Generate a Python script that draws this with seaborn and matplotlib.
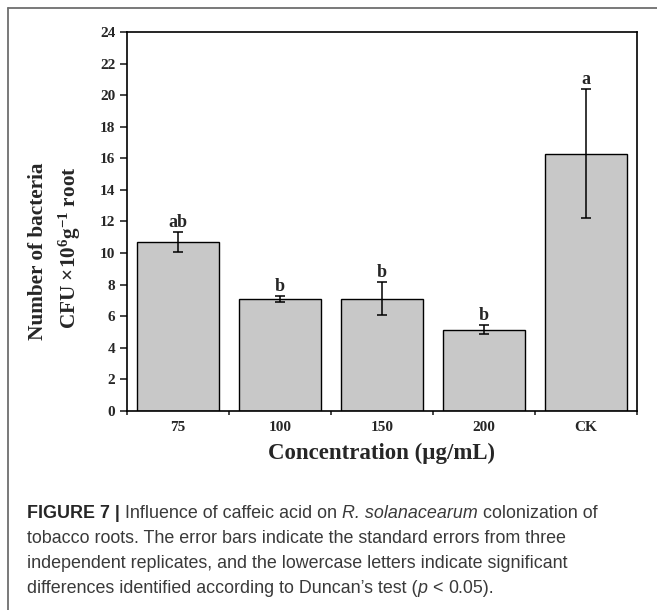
import numpy as np
import pandas as pd
import matplotlib
matplotlib.use("Agg")
import matplotlib.pyplot as plt
from matplotlib.lines import Line2D
import seaborn as sns

# ---------------- data ----------------
concentrations = ["75", "100", "150", "200", "CK"]
means = [10.7, 7.1, 7.1, 5.15, 16.3]
std_errors = [0.65, 0.2, 1.05, 0.3, 4.1]
letters = ["ab", "b", "b", "b", "a"]
y_ticks = list(range(0, 25, 2))

x_label = "Concentration (\u00b5g/mL)"
y_label_1 = "Number of bacteria"
y_label_2 = "CFU \u00d710$^{6}$g$^{-1}$ root"

caption_lines = [
    [("FIGURE 7 |", "bold", False), ("Influence of caffeic acid on", "regular", True),
     ("R. solanacearum", "italic", True), ("colonization of", "regular", True)],
    [("tobacco roots. The error bars indicate the standard errors from three", "regular", False)],
    [("independent replicates, and the lowercase letters indicate significant", "regular", False)],
    [("differences identified according to Duncan\u2019s test (", "regular", False),
     ("p", "italic", False), ("<", "regular", True), ("0.05).", "regular", True)],
]

# ---------------- style ----------------
sns.set_style("ticks")
plt.rcParams["font.family"] = ["Liberation Serif", "DejaVu Serif"]
plt.rcParams.update({
    "mathtext.fontset": "custom",
    "mathtext.rm": "Liberation Serif:bold",
    "mathtext.bf": "Liberation Serif:bold",
    "mathtext.it": "Liberation Serif:bold:italic",
    "axes.linewidth": 1.2,
})

W, H = 657, 610
fig = plt.figure(figsize=(W / 100, H / 100), dpi=100)
fig.patch.set_facecolor("white")

ax_left, ax_right, ax_top, ax_bottom = 127, 637, 32, 411
ax = fig.add_axes([ax_left / W, 1 - ax_bottom / H, (ax_right - ax_left) / W, (ax_bottom - ax_top) / H])

df = pd.DataFrame({"Concentration": concentrations, "CFU": means})
sns.barplot(data=df, x="Concentration", y="CFU", order=concentrations,
            color="#c8c8c8", saturation=1, edgecolor="black", linewidth=1.0,
            width=0.8, errorbar=None, ax=ax)

centers = [p.get_x() + p.get_width() / 2 for p in ax.patches]
ax.errorbar(centers, means, yerr=std_errors, fmt="none", ecolor="black",
            elinewidth=1.1, capsize=3.6, capthick=1.1, zorder=5)

for xc, m, e, lab in zip(centers, means, std_errors, letters):
    ax.annotate(lab, (xc, m + e), xytext=(0, 3.5), textcoords="offset points",
                ha="center", va="baseline", fontsize=13, fontweight="bold")

ax.set_ylim(0, 24)
ax.set_yticks(y_ticks)
ax.set_xlim(-0.5, len(concentrations) - 0.5)
ax.set_xticks(np.arange(-0.5, len(concentrations), 1.0))
ax.set_xticklabels([])
ax.set_xticks(range(len(concentrations)), labels=concentrations, minor=True)
ax.tick_params(axis="x", which="major", length=3, width=1.2, direction="out")
ax.tick_params(axis="x", which="minor", length=0, pad=7.0, labelsize=11)
ax.tick_params(axis="y", length=4.8, width=1.2, direction="out", pad=3.5, labelsize=11)
for lbl in ax.get_xticklabels(minor=True) + ax.get_yticklabels():
    lbl.set_fontweight("bold")
for s in ax.spines.values():
    s.set_visible(True)
    s.set_color("black")
    s.set_linewidth(1.2)

ax.set_xlabel(x_label, fontsize=16.5, fontweight="bold")
ax.xaxis.set_label_coords(0.5, -(453 - ax_bottom) / (ax_bottom - ax_top))
ax.xaxis.label.set_verticalalignment("center")
ax.set_ylabel("")

fig.text(38.5 / W, 1 - 251 / H, y_label_1, rotation=90, ha="center", va="center",
         fontsize=15.3, fontweight="bold")
fig.text(70 / W, 1 - 248 / H, y_label_2, rotation=90, ha="center", va="center",
         fontsize=15.3, fontweight="bold")

# ---------------- outer frame ----------------
fig.add_artist(Line2D([8 / W, 1], [1 - 8 / H, 1 - 8 / H], color="#6e6e6e", lw=1.3))
fig.add_artist(Line2D([8 / W, 8 / W], [0, 1 - 8 / H], color="#6e6e6e", lw=1.3))

# ---------------- caption ----------------
renderer = fig.canvas.get_renderer()
cap_size = 12.9
cap_family = ["Liberation Sans", "DejaVu Sans"]


def make_props(style):
    props = dict(fontsize=cap_size, family=cap_family, color="#3a3a3a")
    if style == "bold":
        props.update(fontweight="bold", color="#262626")
    elif style == "italic":
        props.update(style="italic")
    return props


space_w = (fig.text(0, 0, "a a", **make_props("regular")).get_window_extent(renderer).width
           - fig.text(0, 0, "aa", **make_props("regular")).get_window_extent(renderer).width)
for t in list(fig.texts[-2:]):
    t.remove()

baselines = [518, 543, 568, 593]
for line, yb in zip(caption_lines, baselines):
    x = 27.0
    for txt, style, space_before in line:
        if space_before:
            x += space_w
        t = fig.text(x / W, 1 - yb / H, txt, ha="left", va="baseline", **make_props(style))
        x += t.get_window_extent(renderer).width

fig.savefig("out.png", dpi=100, facecolor="white")
